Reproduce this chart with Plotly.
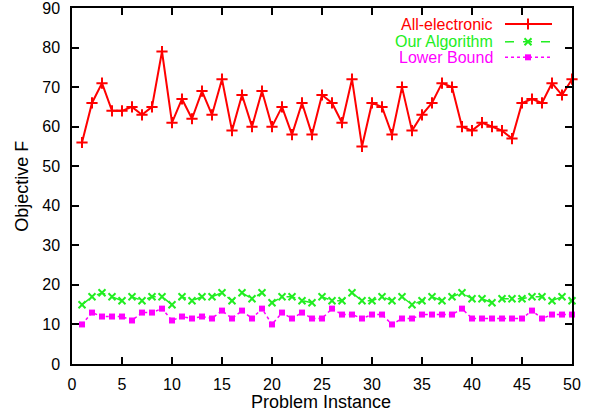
import plotly.graph_objects as go

# Problem instances 1..50
instances = list(range(1, 51))

all_electronic = [56, 66, 71, 64, 64, 65, 63, 65, 79, 61,
                  67, 62, 69, 63, 72, 59, 68, 60, 69, 60,
                  65, 58, 66, 58, 68, 66, 61, 72, 55, 66,
                  65, 58, 70, 59, 63, 66, 71, 70, 60, 59,
                  61, 60, 59, 57, 66, 67, 66, 71, 68, 72]

our_algorithm = [15, 17, 18, 17, 16, 17, 16, 17, 17, 15,
                 17, 16, 17, 17, 18, 16, 18, 16.5, 18, 15.5,
                 17, 17, 16, 15.5, 17, 16, 16, 18, 16, 16,
                 17, 16, 17, 15, 16, 17, 16, 17, 18, 16.5,
                 16.5, 15.5, 16.5, 16.5, 16.5, 17, 17, 16, 17, 16]

lower_bound = [10, 13, 12, 12, 12, 11, 13, 13, 14, 11,
               12, 11.5, 12, 11.5, 13.5, 11.5, 13.5, 11.5, 14, 10,
               13, 11.5, 13, 11.5, 11.5, 14, 12.5, 12.5, 11.5, 12.5,
               12.5, 10, 11.5, 11.5, 12.5, 12.5, 12.5, 12.5, 14, 11.5,
               11.5, 11.5, 11.5, 11.5, 11.5, 13.5, 11.5, 12.5, 12.5, 12.5]

series_names = ["All-electronic", "Our Algorithm", "Lower Bound"]
x_ticks = list(range(0, 51, 5))
y_ticks = list(range(0, 91, 10))

RED = "#ff0000"
GREEN = "#22ee22"
MAGENTA = "#ff00ff"
FONT = "Liberation Sans, Arial, sans-serif"

styles = [
    dict(color=RED, dash="solid", width=2, symbol="cross-thin", size=8, mline=2),
    dict(color=GREEN, dash="dash", width=1.5, symbol="x-thin", size=7, mline=2),
    dict(color=MAGENTA, dash="dot", width=1.5, symbol="square", size=6, mline=0),
]

fig = go.Figure()
for name, ys, st in zip(series_names, [all_electronic, our_algorithm, lower_bound], styles):
    fig.add_trace(go.Scatter(
        x=instances, y=ys, mode="lines+markers", name=name, showlegend=False,
        line=dict(color=st["color"], width=st["width"], dash=st["dash"]),
        marker=dict(symbol=st["symbol"], size=st["size"], color=st["color"],
                    line=dict(color=st["color"], width=st["mline"])),
        cliponaxis=False,
    ))

# Key: text on the left, line sample with marker on the right (overlay axes in 0..1)
key_rows = [0.955, 0.905, 0.8615]
for name, st, yk in zip(series_names, styles, key_rows):
    fig.add_annotation(x=0.846, y=yk, xref="paper", yref="paper", text=name,
                       showarrow=False, xanchor="right", yanchor="middle",
                       font=dict(family=FONT, size=16, color=st["color"]))
    fig.add_trace(go.Scatter(
        x=[0.866, 0.96], y=[yk, yk], xaxis="x2", yaxis="y2", mode="lines",
        line=dict(color=st["color"], width=st["width"], dash=st["dash"]),
        showlegend=False, hoverinfo="skip"))
    fig.add_trace(go.Scatter(
        x=[0.912], y=[yk], xaxis="x2", yaxis="y2", mode="markers",
        marker=dict(symbol=st["symbol"], size=st["size"], color=st["color"],
                    line=dict(color=st["color"], width=st["mline"])),
        showlegend=False, hoverinfo="skip"))

# Axis titles
fig.add_annotation(x=0.498, y=-0.107, xref="paper", yref="paper", text="Problem Instance",
                   showarrow=False, xanchor="center", yanchor="middle",
                   font=dict(family=FONT, size=18, color="black"))
fig.add_annotation(x=-0.1006, y=0.5, xref="paper", yref="paper", text="Objective F",
                   showarrow=False, xanchor="center", yanchor="middle", textangle=-90,
                   font=dict(family=FONT, size=18, color="black"))

axis_common = dict(
    showline=True, linecolor="black", linewidth=1.5, mirror="ticks",
    ticks="inside", ticklen=7, tickwidth=1.5, tickcolor="black",
    showgrid=False, zeroline=False, automargin=False,
    ticklabeloverflow="allow",
    tickfont=dict(family=FONT, size=16, color="black"),
)

fig.update_layout(
    width=597, height=416,
    margin=dict(l=72, r=25, t=8, b=52),
    paper_bgcolor="white", plot_bgcolor="white",
    font=dict(family=FONT, color="black"),
    xaxis=dict(range=[0, 50], tickvals=x_ticks, ticklabelstandoff=5, **axis_common),
    yaxis=dict(range=[0, 90], tickvals=y_ticks, ticklabelstandoff=7, **axis_common),
    xaxis2=dict(range=[0, 1], overlaying="x", visible=False),
    yaxis2=dict(range=[0, 1], overlaying="y", visible=False),
)

fig.write_html("out.html")
